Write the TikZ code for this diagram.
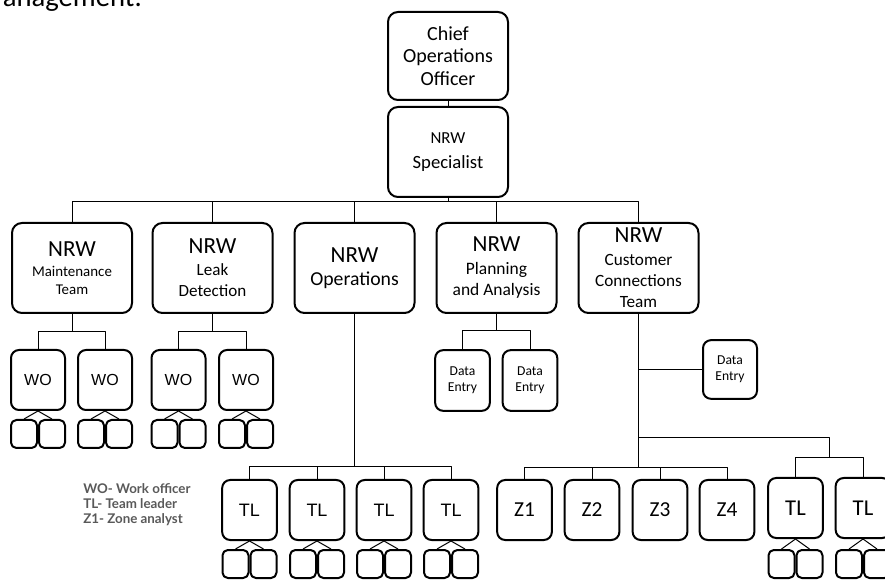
\documentclass[tikz,border=0pt]{standalone}
\usepackage{fontspec}
\setmainfont{Carlito}
\newfontfamily\arialfont{Liberation Sans}
\newfontfamily\legendfont{Lato}
\definecolor{legendgray}{HTML}{595959}
\tikzset{
  box/.style={draw,line width=1.5pt,rounded corners=7.5pt,align=center,inner sep=0pt},
  topbox/.style={box,minimum width=90pt,minimum height=66pt},
  teambox/.style={box,minimum width=90pt,minimum height=67.5pt},
  wobox/.style={box,rounded corners=6pt,minimum width=40.5pt,minimum height=45pt,font=\arialfont\fontsize{12}{14}\selectfont},
  debox/.style={box,rounded corners=6pt,minimum width=41pt,minimum height=45.5pt,font=\fontsize{10.2}{12}\selectfont},
  tlbox/.style={box,rounded corners=6pt,minimum width=41pt,minimum height=45pt,font=\arialfont\fontsize{13.5}{15}\selectfont},
  zbox/.style={tlbox,font=\fontsize{16}{18}\selectfont},
  smallbox/.style={box,rounded corners=4pt,minimum width=19.5pt,minimum height=21pt},
  conn/.style={line width=0.75pt},
}
\begin{document}
\begin{tikzpicture}[x=0.75pt,y=-0.75pt,line join=round]
	\useasboundingbox (0,0) rectangle (885,580);
	\def\nrw{{\fontsize{17.3}{20}\selectfont NRW}}
	% page text cut off above the chart
	\node[anchor=base east,inner sep=0pt,font=\fontsize{21.5}{26}\selectfont] (pagetext) at (142,7) {anagement.};
	% top of the chart
	\node[topbox,font=\fontsize{15}{17}\selectfont] (coo) at (448,56) {Chief\\Operations\\Officer};
	\node[teambox,font=\fontsize{14}{18.75}\selectfont] (spec) at (448,152) {{\fontsize{12.6}{15}\selectfont NRW}\\Specialist};
	\draw[conn] (coo) -- (spec);
	% the five NRW teams
	\node[teambox,font=\fontsize{11.2}{13.5}\selectfont] (maint) at (72,268) {\nrw\\[1.5pt]Maintenance\\Team};
	\node[teambox,font=\fontsize{12.8}{15.75}\selectfont] (leak) at (212.5,268) {\nrw\\[0.75pt]Leak\\Detection};
	\node[teambox,font=\fontsize{14.8}{17}\selectfont] (ops) at (354.5,268) {\nrw\\Operations};
	\node[teambox,font=\fontsize{13.1}{15.75}\selectfont] (plan) at (496.5,268) {\nrw\\[1.5pt]Planning\\and Analysis};
	\node[teambox,font=\fontsize{12.9}{15.75}\selectfont] (cust) at (638.5,268) {\nrw\\[1.5pt]Customer\\Connections\\Team};
	\foreach \t in {maint,leak,ops,plan,cust}
		\draw[conn] (spec.south) -- ++(0,4) -| (\t.north);
	% work officers
	\foreach \w/\x/\t in {woa/38/maint, wob/105/maint, woc/178.5/leak, wod/246/leak} {
		\node[wobox] (\w) at (\x,380) {WO};
		\draw[conn] (\t.south) -- ++(0,18) -| (\w.north);
	}
	% data entry
	\foreach \d/\x in {dea/462.5, deb/530} {
		\node[debox] (\d) at (\x,380.5) {Data\\Entry};
		\draw[conn] (plan.south) -- ++(0,17) -| (\d.north);
	}
	\node[debox,minimum width=40.5pt,minimum height=44pt] (dec) at (730,369.5) {Data\\Entry};
	\draw[conn] (cust.south |- dec.west) -- (dec.west);
	% team leaders under operations
	\foreach \n/\x in {tla/249.5, tlb/317, tlc/384, tld/451} {
		\node[tlbox] (\n) at (\x,510) {TL};
		\draw[conn] (ops.south) -- ++(0,153) -| (\n.north);
	}
	% zone analysts
	\foreach \n/\x/\l in {za/524.5/Z1, zb/592/Z2, zc/660/Z3, zd/727/Z4} {
		\node[zbox] (\n) at (\x,510) {\l};
		\draw[conn] (cust.south) -- ++(0,154) -| (\n.north);
	}
	% team leaders under customer connections
	\path (cust.south) ++(0,124) coordinate (rbranch);
	\coordinate (rhub) at (829,458);
	\draw[conn] (rbranch) -| (rhub);
	\foreach \n/\x in {tle/795.5, tlf/863} {
		\node[tlbox,font=\fontsize{17}{19}\selectfont] (\n) at (\x,508) {TL};
		\draw[conn] (rhub) -| (\n.north);
	}
	% blank boxes under WO and TL
	\foreach \p/\x/\y in {woa/38/434, wob/105/434, woc/178.5/434, wod/246/434, tla/249.5/564, tlb/317/564, tlc/384/564, tld/451/564, tle/795.5/564, tlf/863/564} {
		\node[smallbox] (\p-l) at (\x-14,\y) {};
		\node[smallbox] (\p-r) at (\x+14,\y) {};
		\draw[conn] (\p.south) -- (\p-l.north);
		\draw[conn] (\p.south) -- (\p-r.north);
	}
	% key
	\node[anchor=west,align=left,inner sep=0pt,text=legendgray,font=\legendfont\bfseries\fontsize{10}{11.25}\selectfont] (legend) at (83,505) {WO- Work officer\\TL- Team leader\\Z1- Zone analyst};
\end{tikzpicture}
\end{document}
